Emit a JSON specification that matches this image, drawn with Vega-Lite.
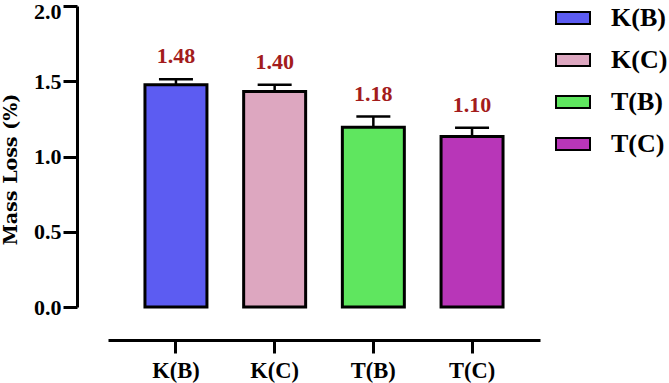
{
  "$schema": "https://vega.github.io/schema/vega-lite/v6.json",
  "width": 432,
  "height": 301,
  "autosize": {"type": "none"},
  "padding": {"left": 108, "top": 6, "right": 129, "bottom": 76},
  "background": "white",
  "config": {"view": {"stroke": null}, "font": "Liberation Serif"},
  "data": {
    "values": [
      {"group": "K(B)", "mean": 1.477, "err": 1.513, "label": "1.48"},
      {"group": "K(C)", "mean": 1.432, "err": 1.477, "label": "1.40"},
      {"group": "T(B)", "mean": 1.195, "err": 1.265, "label": "1.18"},
      {"group": "T(C)", "mean": 1.133, "err": 1.191, "label": "1.10"}
    ]
  },
  "encoding": {
    "x": {
      "field": "group",
      "type": "nominal",
      "sort": null,
      "scale": {"paddingInner": 0.372, "paddingOuter": 0.3745},
      "axis": {
        "title": null,
        "offset": 33,
        "domainWidth": 3,
        "domainColor": "black",
        "tickWidth": 3,
        "tickSize": 13,
        "tickColor": "black",
        "labelAngle": 0,
        "labelFont": "Liberation Serif",
        "labelFontSize": 22.5,
        "labelFontWeight": "bold",
        "labelColor": "black",
        "labelPadding": 6
      }
    }
  },
  "layer": [
    {
      "mark": {"type": "rule", "color": "black", "strokeWidth": 2.5},
      "encoding": {
        "y": {"field": "mean", "type": "quantitative"},
        "y2": {"field": "err"}
      }
    },
    {
      "mark": {"type": "tick", "color": "black", "size": 34, "thickness": 2.5, "opacity": 1},
      "encoding": {
        "y": {"field": "err", "type": "quantitative"}
      }
    },
    {
      "mark": {"type": "bar", "stroke": "black", "strokeWidth": 3, "opacity": 1},
      "encoding": {
        "y": {
          "field": "mean",
          "type": "quantitative",
          "scale": {"domain": [0, 2], "nice": false},
          "axis": {
            "title": "Mass Loss (%)",
            "values": [0, 0.5, 1, 1.5, 2],
            "format": ".1f",
            "offset": 31,
            "grid": false,
            "domainWidth": 3,
            "domainColor": "black",
            "tickWidth": 3,
            "tickSize": 14,
            "tickColor": "black",
            "labelFont": "Liberation Serif",
            "labelFontSize": 22,
            "labelFontWeight": "bold",
            "labelColor": "black",
            "labelPadding": 2,
            "labelOffset": {"condition": {"test": "datum.value === 2", "value": 5}, "value": 0},
            "titleFont": "DejaVu Serif",
            "titleFontSize": 19,
            "titleFontWeight": "bold",
            "titleColor": "black",
            "titlePadding": 13.5,
            "titleY": 163
          }
        },
        "color": {
          "field": "group",
          "type": "nominal",
          "sort": null,
          "scale": {"range": ["#5c5cf2", "#dda7c0", "#5fe65f", "#b836b8"]},
          "legend": {
            "orient": "none",
            "legendX": 447,
            "legendY": -6,
            "title": null,
            "symbolType": "M-1,-0.35H1V0.35H-1Z",
            "symbolSize": 1156,
            "symbolStrokeColor": "black",
            "symbolStrokeWidth": 2,
            "symbolOpacity": 1,
            "labelFont": "Liberation Serif",
            "labelFontSize": 26,
            "labelFontWeight": "bold",
            "labelColor": "black",
            "labelOffset": 20,
            "rowPadding": 11
          }
        }
      }
    },
    {
      "mark": {
        "type": "text",
        "color": "#a31c1c",
        "font": "Liberation Serif",
        "fontSize": 22,
        "fontWeight": "bold",
        "baseline": "alphabetic",
        "dy": -16
      },
      "encoding": {
        "y": {"field": "err", "type": "quantitative"},
        "text": {"field": "label"}
      }
    }
  ]
}
